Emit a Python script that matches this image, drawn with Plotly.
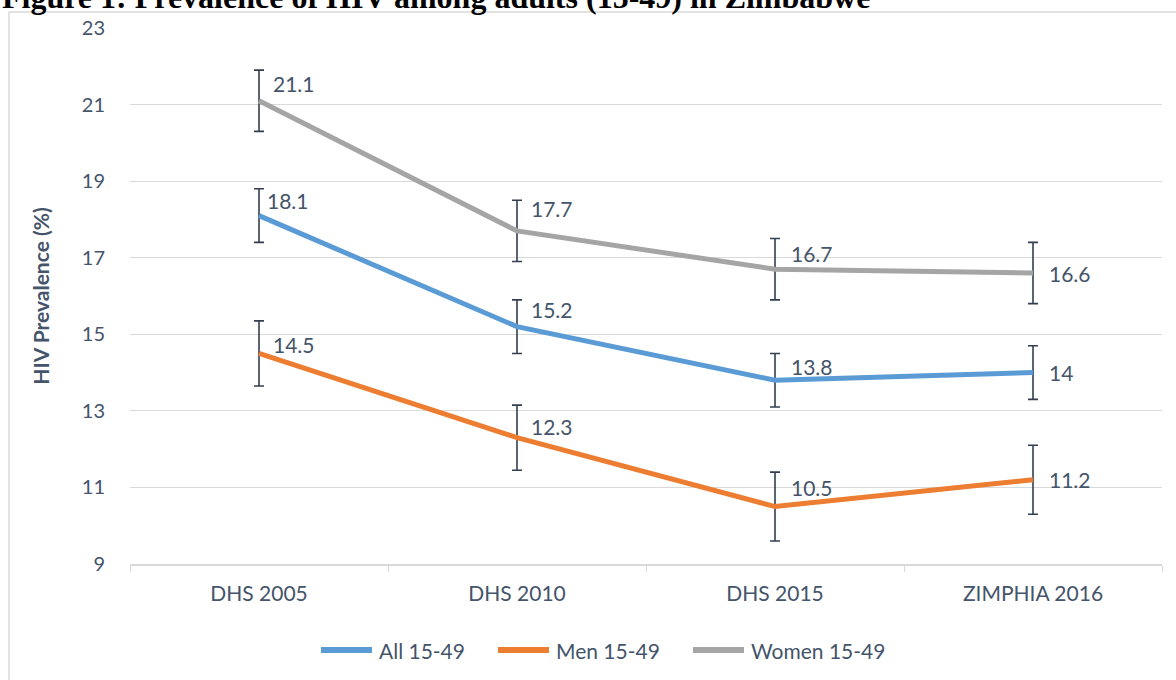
import plotly.graph_objects as go

categories = ["DHS 2005", "DHS 2010", "DHS 2015", "ZIMPHIA 2016"]
series_names = ["All 15-49", "Men 15-49", "Women 15-49"]
all_vals = [18.1, 15.2, 13.8, 14.0]
men_vals = [14.5, 12.3, 10.5, 11.2]
women_vals = [21.1, 17.7, 16.7, 16.6]
all_err = [0.7, 0.7, 0.7, 0.7]
men_err = [0.85, 0.85, 0.9, 0.9]
women_err = [0.8, 0.8, 0.8, 0.8]
y_ticks = [9, 11, 13, 15, 17, 19, 21, 23]

colors = ["#5B9BD5", "#ED7D31", "#A5A5A5"]
text_color = "#44546A"
FONT = "Lato"

# label offsets (px) per series per category: (xshift, yshift)
label_offsets = [
    [(6, 15), (12, 17), (14, 14), (14, 0)],
    [(12, 9), (12, 11), (14, 19), (14, 0)],
    [(12, 17), (12, 22), (14, 16), (14, 0)],
]

W, H = 1176, 680
L, R, T, B = 130, 14, 28, 116
pw, ph = W - L - R, H - T - B


def px(x):
    return (x - L) / pw


def py(y):
    return (H - B - y) / ph


fig = go.Figure()
vals = [all_vals, men_vals, women_vals]
errs = [all_err, men_err, women_err]
for i in range(3):
    fig.add_trace(go.Scatter(
        x=categories, y=vals[i], name=series_names[i], mode="lines",
        line=dict(color=colors[i], width=5),
        error_y=dict(type="data", array=errs[i], visible=True,
                     color="#333F50", thickness=1.6, width=5),
        showlegend=False,
    ))
    for j in range(4):
        fig.add_annotation(
            x=categories[j], y=vals[i][j], text=f"{vals[i][j]:g}",
            showarrow=False, xanchor="left", yanchor="middle",
            xshift=label_offsets[i][j][0], yshift=label_offsets[i][j][1],
            font=dict(family=FONT, size=21, color=text_color),
        )

# custom legend (line swatch + label)
legend_x = [318, 495, 690]
legend_y = 650
for i in range(3):
    fig.add_shape(type="line", xref="paper", yref="paper",
                  x0=px(legend_x[i] + 3), x1=px(legend_x[i] + 54),
                  y0=py(legend_y), y1=py(legend_y),
                  line=dict(color=colors[i], width=6))
    fig.add_annotation(xref="paper", yref="paper", x=px(legend_x[i] + 59), y=py(legend_y),
                       xanchor="left", yanchor="middle", showarrow=False,
                       text=series_names[i],
                       font=dict(family=FONT, size=21, color=text_color))

# chart frame: left and top edges only (others fall outside the page)
fig.add_shape(type="line", xref="paper", yref="paper",
              x0=px(9), x1=px(9), y0=py(680), y1=py(12),
              line=dict(color="#D9D9D9", width=1.5), layer="below")
fig.add_shape(type="line", xref="paper", yref="paper",
              x0=px(9), x1=px(1176), y0=py(12), y1=py(12),
              line=dict(color="#D9D9D9", width=1.5), layer="below")

fig.add_annotation(
    xref="paper", yref="paper", x=px(0), y=py(-3), xanchor="left", yanchor="middle",
    text="<b>Figure 1: Prevalence of HIV among adults (15-49) in Zimbabwe</b>",
    showarrow=False, font=dict(family="Liberation Serif", size=32, color="#000000"),
)

fig.update_layout(
    width=W, height=H,
    margin=dict(l=L, r=R, t=T, b=B, autoexpand=False),
    paper_bgcolor="white", plot_bgcolor="white",
    font=dict(family=FONT, color=text_color),
    showlegend=False,
)
fig.update_xaxes(
    type="category", range=[-0.5, 3.5], showgrid=False,
    showline=True, linecolor="#D9D9D9", linewidth=1.5,
    ticks="outside", tickson="boundaries", ticklen=6, tickcolor="#D9D9D9",
    ticklabelstandoff=10,
    tickfont=dict(family=FONT, size=21, color=text_color),
)
fig.update_yaxes(
    range=[9, 23], tickvals=y_ticks, showgrid=True, gridcolor="#D9D9D9", gridwidth=1.2,
    zeroline=False, showline=False, ticks="", ticklabelstandoff=24,
    tickfont=dict(family=FONT, size=20, color=text_color),
    title=dict(text="<b>HIV Prevalence (%)</b>", standoff=26,
               font=dict(family=FONT, size=21, color=text_color)),
)

fig.write_html(
    "out.html",
    config={"displayModeBar": False},
    post_script="document.body.style.margin='0';document.body.style.overflow='hidden';",
)
